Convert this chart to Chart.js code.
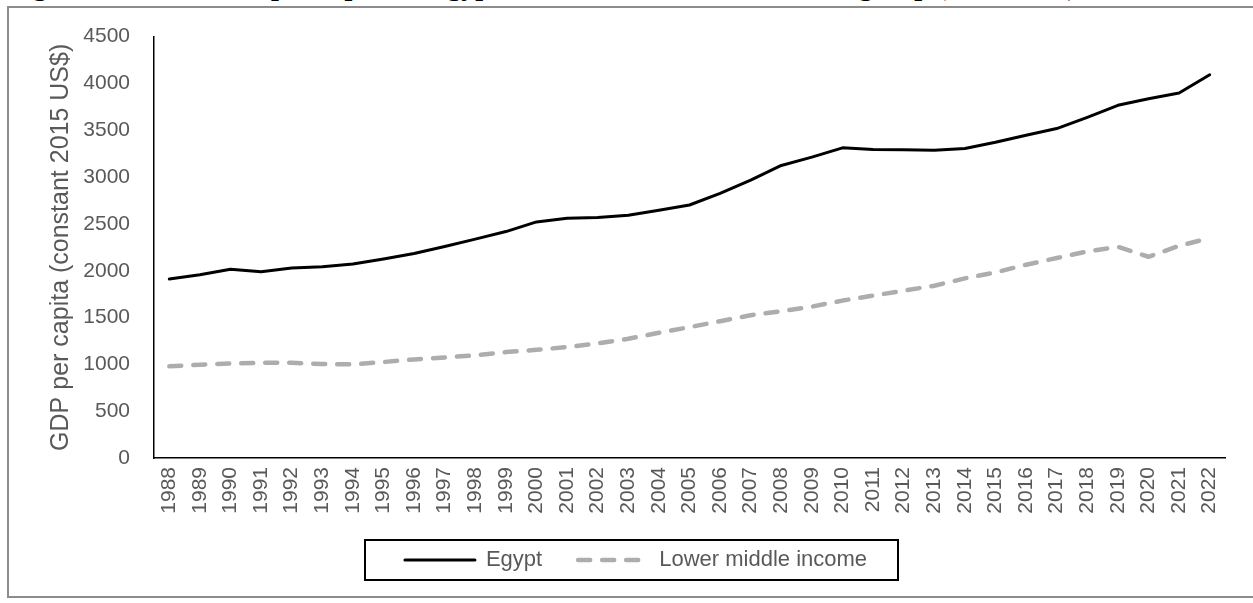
<!DOCTYPE html>
<html><head><meta charset="utf-8">
<script src="https://cdn.jsdelivr.net/npm/chart.js@4.4.1/dist/chart.umd.min.js"></script>
<style>
html,body{margin:0;padding:0;background:#fff;overflow:hidden;width:1253px;height:603px;}
#wrap{position:absolute;left:0;top:0;width:1253px;height:603px;}
#frame{position:absolute;left:7px;top:6px;width:1262px;height:592px;border:2px solid #8c8c8c;box-sizing:border-box;pointer-events:none;}
#title{position:absolute;left:8px;top:-28px;white-space:nowrap;font:bold 28px/28px "Liberation Serif","Times New Roman",serif;color:#000;}
</style></head><body>
<div id="title">Figure 3.1: Real GDP per capita in Egypt and the lower middle income group (1988-2022)</div>
<div id="wrap"><canvas id="c" width="1253" height="603"></canvas></div>
<div id="frame"></div>
<script>
const years = ['1988','1989','1990','1991','1992','1993','1994','1995','1996','1997','1998','1999','2000','2001','2002','2003','2004','2005','2006','2007','2008','2009','2010','2011','2012','2013','2014','2015','2016','2017','2018','2019','2020','2021','2022'];
const egypt = [1912,1957,2015,1989,2028,2043,2071,2124,2184,2259,2337,2418,2521,2560,2567,2592,2645,2702,2826,2968,3124,3213,3312,3294,3291,3287,3305,3372,3447,3518,3638,3766,3837,3897,4092];
const lowerMiddle = [979,997,1010,1016,1016,1003,1000,1025,1053,1074,1096,1131,1155,1185,1225,1273,1337,1397,1461,1525,1567,1617,1681,1734,1787,1840,1918,1982,2064,2135,2206,2255,2149,2266,2348];
const seriesNames = ['Egypt','Lower middle income'];
const yTitle = 'GDP per capita (constant 2015 US$)';
const yMin = 0, yMax = 4500, yStep = 500;

const F = "'Liberation Sans', Arial, sans-serif";

const legendBox = {
  id: 'legendBox',
  afterDraw(chart) {
    const lg = chart.legend;
    if (!lg || !lg.legendHitBoxes || !lg.legendHitBoxes.length) return;
    const hb = lg.legendHitBoxes;
    const l = Math.min(...hb.map(h => h.left)) - 40;
    const r = Math.max(...hb.map(h => h.left + h.width)) + 31;
    const cy = hb[0].top + hb[0].height / 2;
    const ctx = chart.ctx;
    ctx.save();
    ctx.strokeStyle = '#000';
    ctx.lineWidth = 2;
    ctx.setLineDash([]);
    ctx.strokeRect(Math.round(l), Math.round(cy - 20), Math.round(r - l), 40);
    ctx.restore();
  }
};

new Chart(document.getElementById('c').getContext('2d'), {
  type: 'line',
  data: {
    labels: years,
    datasets: [
      { label: seriesNames[0], data: egypt, borderColor: '#000', backgroundColor: '#000',
        borderWidth: 3, pointRadius: 0, pointStyle: 'line', tension: 0,
        borderCapStyle: 'round', borderJoinStyle: 'round' },
      { label: seriesNames[1], data: lowerMiddle, borderColor: '#adadad', backgroundColor: '#adadad',
        borderWidth: 4.5, borderDash: [12, 12], borderCapStyle: 'round', borderJoinStyle: 'round',
        pointRadius: 0, pointStyle: 'line', tension: 0 }
    ]
  },
  options: {
    responsive: false,
    animation: false,
    layout: { padding: { left: 47, right: 28, top: 35, bottom: 22 } },
    plugins: {
      legend: {
        position: 'bottom',
        labels: {
          usePointStyle: true, pointStyleWidth: 70, boxWidth: 70, padding: 36,
          color: '#595959', font: { family: F, size: 22 },
          generateLabels(chart) {
            return chart.data.datasets.map((ds, i) => ({
              text: ds.label,
              fillStyle: ds.borderColor,
              strokeStyle: ds.borderColor,
              lineWidth: ds.borderWidth,
              lineDash: ds.borderDash || [],
              lineCap: ds.borderCapStyle || 'butt',
              lineJoin: 'round',
              pointStyle: 'line',
              fontColor: '#595959',
              hidden: false,
              datasetIndex: i
            }));
          }
        }
      },
      tooltip: { enabled: false },
      title: { display: false }
    },
    scales: {
      x: {
        offset: true,
        grid: { display: false, drawTicks: false, tickLength: 0 },
        border: { display: true, color: '#000', width: 1.5 },
        ticks: { autoSkip: false, maxRotation: 90, minRotation: 90, padding: 9,
          color: '#595959', font: { family: F, size: 21 } },
        afterFit(s) { s.height = 55; }
      },
      y: {
        min: yMin, max: yMax,
        grid: { display: false, drawTicks: false, tickLength: 0 },
        border: { display: true, color: '#000', width: 1.5 },
        ticks: { stepSize: yStep, padding: 24, color: '#595959', font: { family: F, size: 21 },
          callback: v => String(v) },
        title: { display: true, text: yTitle, color: '#595959',
          font: { family: F, size: 25, lineHeight: 1 }, padding: { top: 2, bottom: 0 } },
        afterFit(s) { s.width = 107; }
      }
    }
  },
  plugins: [legendBox]
});
</script>
</body></html>
